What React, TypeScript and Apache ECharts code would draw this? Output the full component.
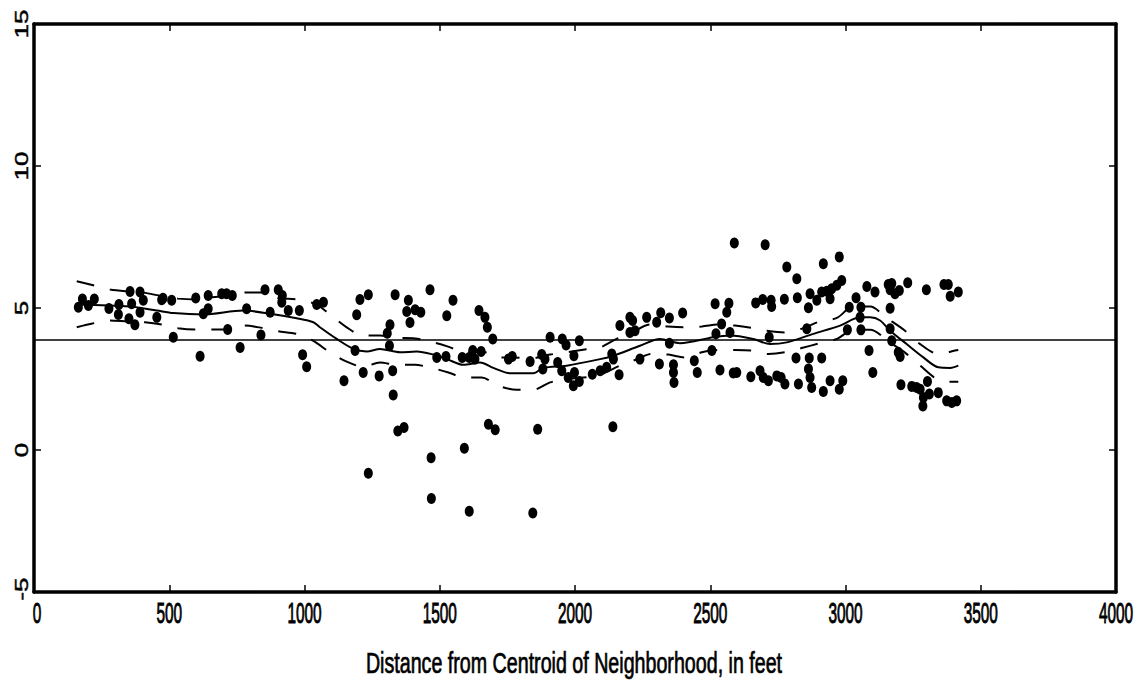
import React, { useEffect, useRef } from "react";
import * as echarts from "echarts";

// Scatter points: distance from centroid (feet) and the plotted value
const distance = [
  164, 179, 201, 223, 277, 314, 312, 355, 361, 351, 373, 392, 404, 392, 454, 472, 477, 509, 515, 598,
  626, 644, 644, 614, 694, 712, 733, 716, 762, 786, 839, 854, 873, 903, 918, 916, 940, 981, 993, 1008,
  1045, 1070, 1187, 1193, 1205, 1236, 1217, 1146, 1276, 1236, 1316, 1306, 1314, 1326, 1328, 1335, 1345, 1368, 1384, 1378,
  1390, 1409, 1430, 1464, 1489, 1526, 1523, 1549, 1468, 1469, 1591, 1609, 1583, 1609, 1622, 1630, 1653, 1645, 1667, 1676,
  1696, 1680, 1705, 1754, 1768, 1834, 1862, 1844, 1877, 1889, 1881, 1908, 1953, 1967, 1936, 1951, 1975, 1996, 1998, 2016,
  2016, 1994, 2064, 2093, 2117, 2136, 2142, 2163, 2140, 2166, 2203, 2213, 2203, 2222, 2240, 2265, 2302, 2317, 2349, 2312,
  2349, 2364, 2364, 2366, 2398, 2441, 2452, 2506, 2518, 2569, 2561, 2542, 2521, 2573, 2536, 2585, 2598, 2589, 2703, 2668,
  2694, 2725, 2727, 2774, 2822, 2718, 2650, 2684, 2696, 2715, 2746, 2762, 2776, 2783, 2820, 2826, 2863, 2866, 2869, 2875,
  2817, 2857, 2863, 2869, 2894, 2912, 2918, 2918, 2912, 2931, 2943, 2949, 2968, 2986, 2977, 2943, 2977, 2990, 3007, 3014,
  3039, 3057, 3057, 3079, 3109, 3087, 3101, 3054, 3158, 3171, 3165, 3183, 3199, 3230, 3165, 3165, 3171, 3195, 3202, 3205,
  3245, 3263, 3276, 3288, 3286, 3303, 3310, 3299, 3343, 3364, 3380, 3387, 3417, 3374, 3393, 3411,
];
const value = [
  5.03, 5.32, 5.09, 5.32, 4.98, 5.12, 4.77, 5.58, 5.15, 4.62, 4.41, 5.56, 5.27, 4.85, 4.67, 5.29, 5.34, 5.27, 3.97, 5.35,
  4.8, 5.44, 4.97, 3.3, 5.5, 5.5, 5.44, 4.24, 3.61, 4.97, 4.05, 5.64, 4.85, 5.64, 5.44, 5.2, 4.91, 4.91, 3.35, 2.93,
  5.12, 5.2, 3.5, 4.76, 5.3, 5.47, 2.73, 2.44, 2.61, -0.82, 4.41, 4.11, 3.67, 2.79, 1.94, 5.47, 0.67, 0.79, 5.27, 4.88,
  4.49, 4.94, 4.85, 5.64, 3.26, 4.73, 3.29, 5.27, -0.27, -1.71, 0.06, -2.16, 3.26, 3.26, 3.5, 3.2, 3.47, 4.91, 4.67, 4.32,
  3.91, 0.91, 0.71, 3.2, 3.29, 3.12, 0.73, -2.22, 3.36, 3.2, 2.85, 3.97, 3.91, 3.7, 3.08, 2.79, 2.55, 3.32, 2.73, 3.85,
  2.41, 2.26, 2.67, 2.79, 2.91, 3.38, 3.2, 2.65, 0.82, 4.38, 4.67, 4.56, 4.14, 4.2, 3.2, 4.67, 4.5, 4.83, 4.65, 3.03,
  3.76, 3.0, 2.73, 2.38, 4.82, 3.14, 2.73, 3.5, 5.15, 5.17, 4.85, 4.44, 4.09, 4.14, 2.82, 2.71, 2.73, 7.29, 7.23, 5.18,
  5.3, 5.27, 5.05, 5.31, 5.36, 3.97, 2.58, 2.79, 2.55, 2.44, 2.61, 2.55, 2.32, 6.44, 6.03, 2.32, 2.85, 3.24, 2.55, 2.2,
  3.24, 4.27, 5.01, 5.5, 5.27, 3.24, 2.06, 6.56, 5.56, 5.59, 5.33, 5.68, 5.8, 5.97, 6.8, 2.44, 2.14, 2.44, 4.23, 5.03,
  5.36, 5.03, 4.23, 5.76, 5.56, 3.5, 2.73, 4.67, 5.83, 5.86, 5.64, 5.5, 5.62, 5.89, 4.99, 4.27, 3.85, 3.44, 3.29, 2.3,
  2.24, 2.2, 2.14, 1.85, 1.55, 2.41, 1.97, 5.64, 2.02, 5.83, 5.83, 5.41, 5.56, 1.73, 1.67, 1.73,
];

// Smoothed fit (solid line)
const fitX = [
  158, 355, 454, 515, 626, 774, 873, 971, 1033, 1057, 1119, 1181, 1230, 1279, 1353, 1415, 1476, 1526, 1587, 1649,
  1698, 1760, 1846, 1883, 1969, 2093, 2142, 2240, 2314, 2388, 2511, 2573, 2659, 2721, 2783, 2881, 2980, 3054, 3091, 3128,
  3165, 3226, 3288, 3343, 3387, 3417,
];
const fitY = [
  5.12, 5.05, 4.91, 4.82, 4.77, 4.91, 4.8, 4.64, 4.5, 4.32, 3.91, 3.56, 3.47, 3.56, 3.44, 3.47, 3.36, 3.2, 3.0, 3.08,
  2.89, 2.7, 2.7, 2.89, 2.97, 3.2, 3.32, 3.67, 3.91, 3.76, 3.97, 4.03, 3.91, 3.73, 3.79, 4.09, 4.38, 4.67, 4.67, 4.56,
  4.2, 3.73, 3.26, 2.91, 2.89, 2.97,
];

// Upper band (dashed)
const upperX = [
  158, 219, 281, 355, 392, 478, 532, 603, 658, 725, 780, 847, 902, 972, 1045, 1094, 1156, 1217, 1279, 1341,
  1408, 1464, 1531, 1586, 1655, 1717, 1771, 1834, 1908, 1969, 2030, 2092, 2154, 2203, 2277, 2344, 2407, 2469, 2536, 2591,
  2653, 2709, 2776, 2838, 2906, 2968, 3028, 3091, 3152, 3220, 3276, 3343, 3405, 3417,
];
const upperY = [
  5.94, 5.8, 5.65, 5.58, 5.56, 5.41, 5.33, 5.3, 5.38, 5.44, 5.55, 5.55, 5.35, 5.3, 5.12, 4.77, 4.32, 4.03, 4.03, 3.95,
  3.93, 3.82, 3.64, 3.47, 3.47, 3.26, 3.26, 3.22, 3.36, 3.44, 3.53, 3.61, 3.91, 4.09, 4.42, 4.35, 4.32, 4.35, 4.42, 4.38,
  4.3, 4.2, 4.14, 4.27, 4.53, 4.65, 5.05, 5.05, 4.65, 4.2, 3.73, 3.38, 3.5, 3.52,
];

// Lower band (dashed)
const lowerX = [
  158, 219, 281, 343, 410, 472, 532, 595, 657, 718, 780, 842, 902, 971, 1031, 1094, 1156, 1217, 1279, 1341,
  1408, 1470, 1532, 1593, 1655, 1717, 1785, 1846, 1908, 1969, 2031, 2092, 2166, 2222, 2284, 2345, 2407, 2469, 2530, 2591,
  2653, 2715, 2776, 2838, 2906, 2968, 3028, 3091, 3165, 3220, 3276, 3343, 3405, 3417,
];
const lowerY = [
  4.32, 4.46, 4.56, 4.53, 4.5, 4.42, 4.29, 4.24, 4.24, 4.24, 4.38, 4.3, 4.18, 4.09, 3.85, 3.44, 3.11, 2.93, 3.08, 3.0,
  3.0, 2.89, 2.73, 2.55, 2.55, 2.26, 2.12, 2.12, 2.38, 2.5, 2.55, 2.65, 2.97, 3.17, 3.38, 3.36, 3.26, 3.44, 3.52, 3.52,
  3.5, 3.38, 3.44, 3.59, 3.76, 3.91, 4.23, 4.23, 3.78, 3.43, 2.97, 2.47, 2.4, 2.4,
];

const referenceLevel = 3.89;
const xTickValues = [0, 500, 1000, 1500, 2000, 2500, 3000, 3500, 4000];
const yTickValues = [-5, 0, 5, 10, 15];
const xAxisTitle = "Distance from Centroid of Neighborhood, in feet";

const labelFont = "'Liberation Sans', Arial, Helvetica, sans-serif";

const zip = (xs: number[], ys: number[]) => xs.map((x, i) => [x, ys[i]]);

function measure(text: string, font: string): number {
  const c = document.createElement("canvas").getContext("2d");
  if (!c) return text.length * 12;
  c.font = font;
  return c.measureText(text).width;
}

export default function App() {
  const ref = useRef<HTMLDivElement>(null);

  useEffect(() => {
    if (!ref.current) return;
    const chart = echarts.init(ref.current, undefined, { renderer: "svg" });
    const frame = { show: true, onZero: false, lineStyle: { color: "#000", width: 3.5 } };
    const ticks = { show: true, inside: true, length: 7, lineStyle: { color: "#000", width: 1.5 } };
    const dashed = { color: "#000", width: 2, type: [18, 16] as number[] };

    const xAxisBase = {
      type: "value",
      min: 0,
      max: 4000,
      interval: 500,
      axisLine: frame,
      axisTick: ticks,
      splitLine: { show: false },
      axisLabel: { show: false },
    };
    const yAxisBase = {
      type: "value",
      min: -5,
      max: 15,
      interval: 5,
      axisLine: frame,
      axisTick: ticks,
      splitLine: { show: false },
      axisLabel: { show: false },
    };

    chart.setOption({
      animation: false,
      backgroundColor: "#fff",
      grid: { left: 34, right: 30, top: 24, bottom: 91, containLabel: false },
      xAxis: [
        { ...xAxisBase, position: "bottom" },
        { ...xAxisBase, position: "top" },
      ],
      yAxis: [
        { ...yAxisBase, position: "left" },
        { ...yAxisBase, position: "right" },
      ],
      series: [
        {
          type: "scatter",
          data: zip(distance, value),
          symbol: "circle",
          symbolSize: [9, 11],
          itemStyle: { color: "#000", opacity: 1 },
          markLine: {
            silent: true,
            symbol: ["none", "none"],
            label: { show: false },
            lineStyle: { color: "#000", width: 1.6, type: "solid" },
            data: [{ yAxis: referenceLevel }],
          },
        },
        {
          type: "line",
          data: zip(fitX, fitY),
          showSymbol: false,
          smooth: 0.3,
          lineStyle: { color: "#000", width: 2 },
        },
        {
          type: "line",
          data: zip(upperX, upperY),
          showSymbol: false,
          smooth: 0.3,
          lineStyle: dashed,
        },
        {
          type: "line",
          data: zip(lowerX, lowerY),
          showSymbol: false,
          smooth: 0.3,
          lineStyle: dashed,
        },
      ],
    });

    // Tick labels and axis title in a tall, condensed style (as in the original plot)
    const xFont = `28px ${labelFont}`;
    const baseY = chart.convertToPixel({ yAxisIndex: 0 }, -5) as number;
    const leftX = chart.convertToPixel({ xAxisIndex: 0 }, 0) as number;
    const rightX = chart.convertToPixel({ xAxisIndex: 0 }, 4000) as number;
    const titleW = measure(xAxisTitle, xFont);

    const graphics: any[] = [];
    xTickValues.forEach((v) => {
      graphics.push({
        type: "text",
        x: (chart.convertToPixel({ xAxisIndex: 0 }, v) as number) + (v === 0 ? 3 : 0),
        y: baseY + 21,
        scaleX: 0.55,
        scaleY: 1.05,
        style: {
          text: String(v),
          font: xFont,
          fill: "#000",
          stroke: "#000",
          lineWidth: 0.9,
          align: "center",
          verticalAlign: "middle",
        },
      });
    });
    yTickValues.forEach((v) => {
      graphics.push({
        type: "text",
        x: leftX - 13,
        y: (chart.convertToPixel({ yAxisIndex: 0 }, v) as number) + (v < 0 ? -3 : 0),
        rotation: Math.PI / 2,
        scaleY: 0.72,
        style: {
          text: String(v),
          font: `26px ${labelFont}`,
          fill: "#000",
          stroke: "#000",
          lineWidth: 0.6,
          align: "center",
          verticalAlign: "middle",
        },
      });
    });
    graphics.push({
      type: "text",
      x: (leftX + rightX) / 2 - 1,
      y: baseY + 70,
      scaleX: 416 / titleW,
      scaleY: 1.05,
      style: {
        text: xAxisTitle,
        font: xFont,
        fill: "#000",
        stroke: "#000",
        lineWidth: 0.7,
        align: "center",
        verticalAlign: "middle",
      },
    });
    chart.setOption({ graphic: graphics });

    return () => chart.dispose();
  }, []);

  return (
    <div
      ref={ref}
      style={{ position: "absolute", left: 0, top: 0, width: 1146, height: 683, background: "#fff" }}
    />
  );
}
